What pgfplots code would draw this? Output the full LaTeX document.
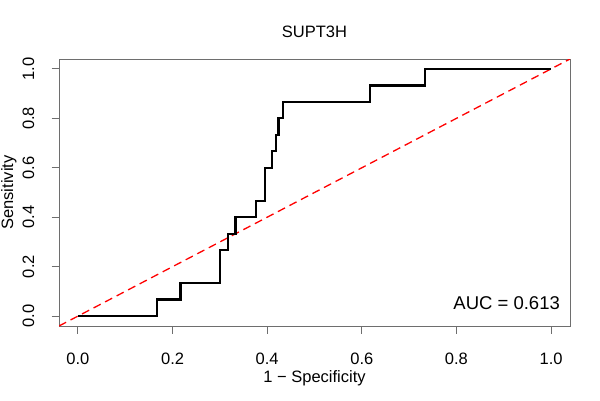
\documentclass[border=0pt]{standalone}
\usepackage{fontspec}
\setmainfont{Liberation Sans}
\usepackage{pgfplots}
\pgfplotsset{compat=1.18}
\definecolor{axgray}{RGB}{110,110,110}
\begin{document}
\fontsize{16.5}{19.8}\selectfont
\begin{tikzpicture}[x=1pt,y=1pt]
\path[use as bounding box] (0,0) rectangle (600,400);
\begin{axis}[
  at={(59pt,74pt)}, anchor=south west,
  width=511pt, height=267pt, scale only axis,
  xmin=-0.04, xmax=1.04, ymin=-0.04, ymax=1.04,
  xtick={0,0.2,0.4,0.6,0.8,1.0},
  ytick={0,0.2,0.4,0.6,0.8,1.0},
  xtick pos=bottom, ytick pos=left,
  tick align=outside, major tick length=7.5pt,
  tick style={draw=axgray, line width=0.9pt},
  axis line style={draw=axgray, line width=0.9pt},
  /pgf/number format/assume math mode=true,
  /pgf/number format/.cd, fixed, fixed zerofill, precision=1, /pgfplots/.cd,
  tick label style={font=\fontsize{16.5}{19.8}\selectfont},
  xticklabel style={anchor=north, inner sep=0pt},
  xticklabel shift=19pt,
  yticklabel style={rotate=90, anchor=south, inner sep=0pt},
  yticklabel shift=17pt,
  title={SUPT3H},
  title style={at={(axis description cs:0.5,1)}, anchor=base, yshift=15.7pt, inner sep=0pt, font=\fontsize{16.5}{19.8}\selectfont},
  xlabel={1 − Specificity},
  x label style={at={(axis description cs:0.5,0)}, anchor=base, yshift=-56pt, inner sep=0pt, font=\fontsize{16.5}{19.8}\selectfont},
  ylabel={Sensitivity},
  y label style={at={(axis description cs:-0.090,0.5)}, anchor=base, inner sep=0pt, font=\fontsize{16.5}{19.8}\selectfont},
  clip=true,
]
\addplot[red, line width=1.3pt, dash pattern=on 8pt off 5pt] coordinates {(-0.04,-0.04) (1.04,1.04)};
\addplot[black, line width=2.3pt, line join=miter] coordinates {
(0,0) (0.1667,0) (0.1667,0.0667) (0.2167,0.0667) (0.2167,0.1333)
(0.3,0.1333) (0.3,0.2667) (0.3167,0.2667) (0.3167,0.3333)
(0.3333,0.3333) (0.3333,0.4) (0.3767,0.4) (0.3767,0.4667)
(0.395,0.4667) (0.395,0.6) (0.41,0.6) (0.41,0.6667)
(0.418,0.6667) (0.418,0.7333) (0.424,0.7333) (0.424,0.8)
(0.4333,0.8) (0.4333,0.8667) (0.6167,0.8667) (0.6167,0.9333)
(0.7333,0.9333) (0.7333,1) (1,1)};
\node[anchor=base east, inner sep=0pt, font=\fontsize{18.5}{22}\selectfont] at (axis cs:1.019,0.028) {AUC = 0.613};
\end{axis}
\end{tikzpicture}
\end{document}
